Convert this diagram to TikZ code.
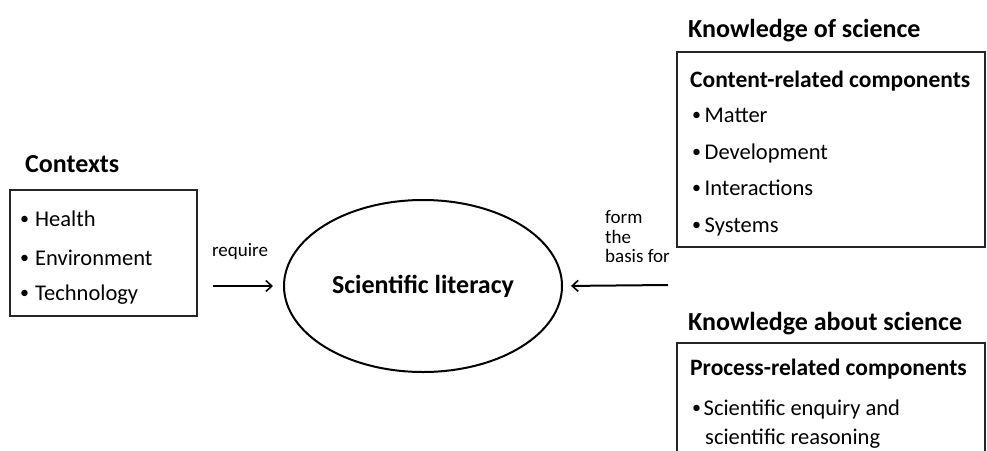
\documentclass[tikz,border=0pt]{standalone}
\usepackage{fontspec}
\setmainfont{Carlito}
\usetikzlibrary{arrows.meta,shapes.geometric}
\tikzset{
  ttl/.style={inner sep=0pt, anchor=west, text height=16.6pt, text depth=0pt, font=\fontsize{26}{31}\selectfont\bfseries},
  sub/.style={inner sep=0pt, anchor=west, text height=15pt, text depth=0pt, font=\fontsize{23.5}{28}\selectfont\bfseries},
  itm/.style={inner sep=0pt, anchor=west, text height=14.4pt, text depth=0pt, font=\fontsize{22.5}{27}\selectfont},
  small/.style={inner sep=0pt, font=\fontsize{19}{19}\selectfont},
  boxline/.style={draw=black!85, line width=2pt},
  arr/.style={line width=2pt, -{Straight Barb[length=6pt,width=11pt,line width=1.6pt]}},
}
\newcommand{\bulw}[1]{\makebox[#1][l]{\raisebox{1.6pt}{\fontsize{18}{18}\selectfont •}}}
\begin{document}
\begin{tikzpicture}[x=1pt,y=-1pt]
\useasboundingbox (0,0) rectangle (987,450);
\clip (0,0) rectangle (987,450);
% Contexts
\node[ttl] (ctxT) at (25,164) {Contexts};
\node[boxline, minimum width=187pt, minimum height=126pt, inner sep=0pt] (ctxB) at (103.5,253) {};
\node[itm] (c1) at (20,219) {\bulw{15pt}Health};
\node[itm] (c2) at (20,258) {\bulw{15pt}Environment};
\node[itm] (c3) at (20,293) {\bulw{15pt}Technology};
% Ellipse
\node[ellipse, draw, line width=2pt, minimum width=278pt, minimum height=172pt, inner sep=0pt,
      font=\fontsize{26}{31}\selectfont\bfseries] (lit) at (423,286) {Scientific literacy};
\coordinate (la) at (213,286);
\draw[arr, shorten >=10pt] (la) -- (lit.west);
\node[small] (req) at (240,251) {require};
\coordinate (ra) at (668,285);
\draw[arr, shorten >=8pt] (ra) -- (lit.east);
\node[small, anchor=west, align=left, font=\fontsize{19}{19.5}\selectfont] (fb) at (605,237) {form\\the\\basis for};
% Knowledge of science
\node[ttl] (kofT) at (688,29) {Knowledge of science};
\node[boxline, minimum width=308pt, minimum height=195pt, inner sep=0pt] (kofB) at (831,149.5) {};
\node[sub] (kofS) at (690,80) {Content-related components};
\node[itm] (k1) at (692,115) {\bulw{12.5pt}Matter};
\node[itm] (k2) at (692,152) {\bulw{12.5pt}Development};
\node[itm] (k3) at (692,188) {\bulw{12.5pt}Interactions};
\node[itm] (k4) at (692,225) {\bulw{12.5pt}Systems};
% Knowledge about science
\node[ttl] (kabT) at (688,322) {Knowledge about science};
\node[boxline, minimum width=308pt, minimum height=160pt, inner sep=0pt] (kabB) at (831,423) {};
\node[sub] (kabS) at (690,368) {Process-related components};
\node[itm] (p1) at (692,408) {\bulw{11.5pt}Scientific enquiry and};
\node[itm] (p2) at (705,437) {scientific reasoning};
\end{tikzpicture}
\end{document}
